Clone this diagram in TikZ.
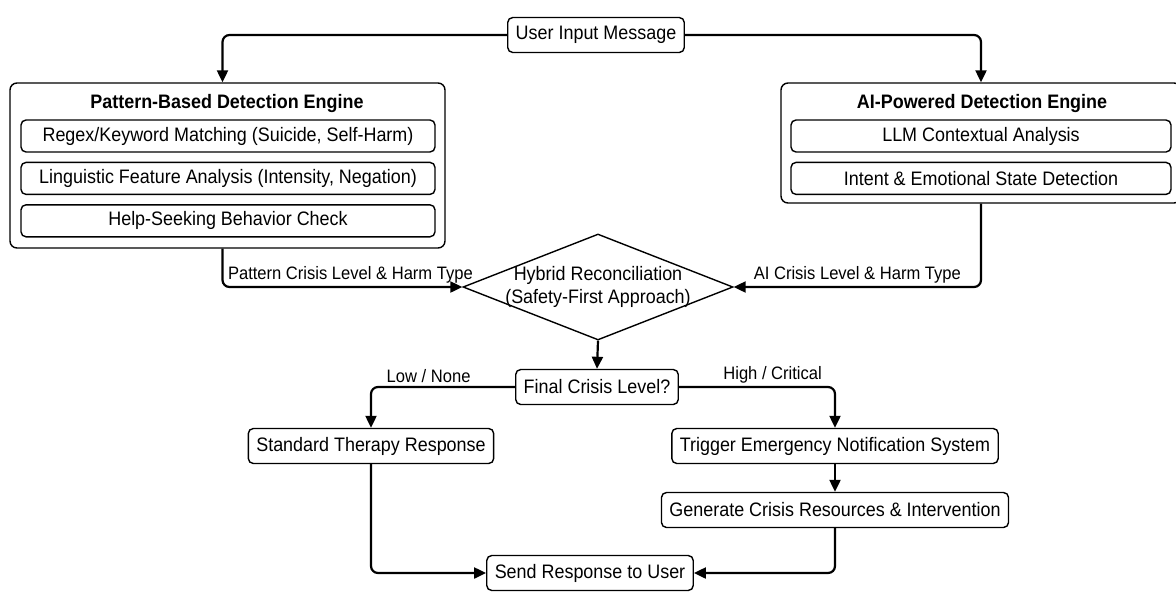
\documentclass[tikz,border=0pt]{standalone}
\usepackage{fontspec}
\setmainfont[FakeStretch=0.92]{Liberation Sans}
\usetikzlibrary{shapes.geometric, arrows.meta, positioning}

\begin{document}
\begin{tikzpicture}[x=1pt, y=-1pt,
  font=\fontsize{19.5}{23}\selectfont,
  node distance=9pt,
  box/.style={draw, rounded corners=5pt, line width=1.4pt, minimum height=35pt, inner xsep=8pt},
  panel/.style={draw, rounded corners=7pt, line width=1.4pt},
  item/.style={draw, rounded corners=5pt, line width=1.4pt, minimum height=32pt},
  decision/.style={draw, diamond, line width=1.4pt, inner sep=0pt, minimum width=270pt, minimum height=106pt, align=center},
  title/.style={font=\fontsize{19.5}{23}\selectfont\bfseries},
  tag/.style={font=\fontsize{18}{21}\selectfont, inner sep=3pt},
  arrow/.style={-{Triangle[length=12pt, width=11pt]}, line width=2.2pt, rounded corners=7pt}
]
  \useasboundingbox (0,0) rectangle (1176,603);

  \node[box] (user) at (596,35) {User Input Message};

  % Pattern-based engine
  \node[panel, minimum width=435pt, minimum height=165pt] (pattern) at (227.5,165.5) {};
  \node[title] (ptitle) at (227,103) {Pattern-Based Detection Engine};
  \node[item, minimum width=414pt] (regex) at (228,136) {Regex/Keyword Matching (Suicide, Self-Harm)};
  \node[item, minimum width=414pt, below=of regex] (ling) {Linguistic Feature Analysis (Intensity, Negation)};
  \node[item, minimum width=414pt, below=of ling] (help) {Help-Seeking Behavior Check};

  % AI-powered engine
  \node[panel, minimum width=400pt, minimum height=120pt] (ai) at (981,143) {};
  \node[title] (atitle) at (982,103) {AI-Powered Detection Engine};
  \node[item, minimum width=380pt] (llm) at (981,136) {LLM Contextual Analysis};
  \node[item, minimum width=380pt, below=of llm] (intent) {Intent \& Emotional State Detection};

  % Reconciliation and routing
  \node[decision] (hybrid) at (598,287)
    {\makebox[0pt]{Hybrid Reconciliation}\\\makebox[0pt]{(Safety-First Approach)}};
  \node[box] (final) at (597,387) {Final Crisis Level?};
  \node[box] (standard) at (371,446) {Standard Therapy Response};
  \node[box] (trigger) at (835,446) {Trigger Emergency Notification System};
  \node[box] (generate) at (835,510) {Generate Crisis Resources \& Intervention};
  \node[box] (send) at (590,573) {Send Response to User};

  \draw[arrow] (user.west) -| ([xshift=-5pt]pattern.north);
  \draw[arrow] (user.east) -| (ai.north);
  \draw[arrow] ([xshift=-5pt]pattern.south) |- node[tag, above, pos=0.75, xshift=8pt] (plevel) {Pattern Crisis Level \& Harm Type} (hybrid.west);
  \draw[arrow] (ai.south) |- node[tag, above, pos=0.75] (alevel) {AI Crisis Level \& Harm Type} (hybrid.east);
  \draw[arrow] (hybrid.south) -- (final.north);
  \draw[arrow] (final.west) -| node[tag, above, pos=0.3] (low) {Low / None} (standard.north);
  \draw[arrow] (final.east) -| node[tag, above, pos=0.3] (high) {High / Critical} (trigger.north);
  \draw[arrow] (trigger) -- (generate);
  \draw[arrow] (standard.south) |- (send.west);
  \draw[arrow] (generate.south) |- (send.east);
\end{tikzpicture}
\end{document}
